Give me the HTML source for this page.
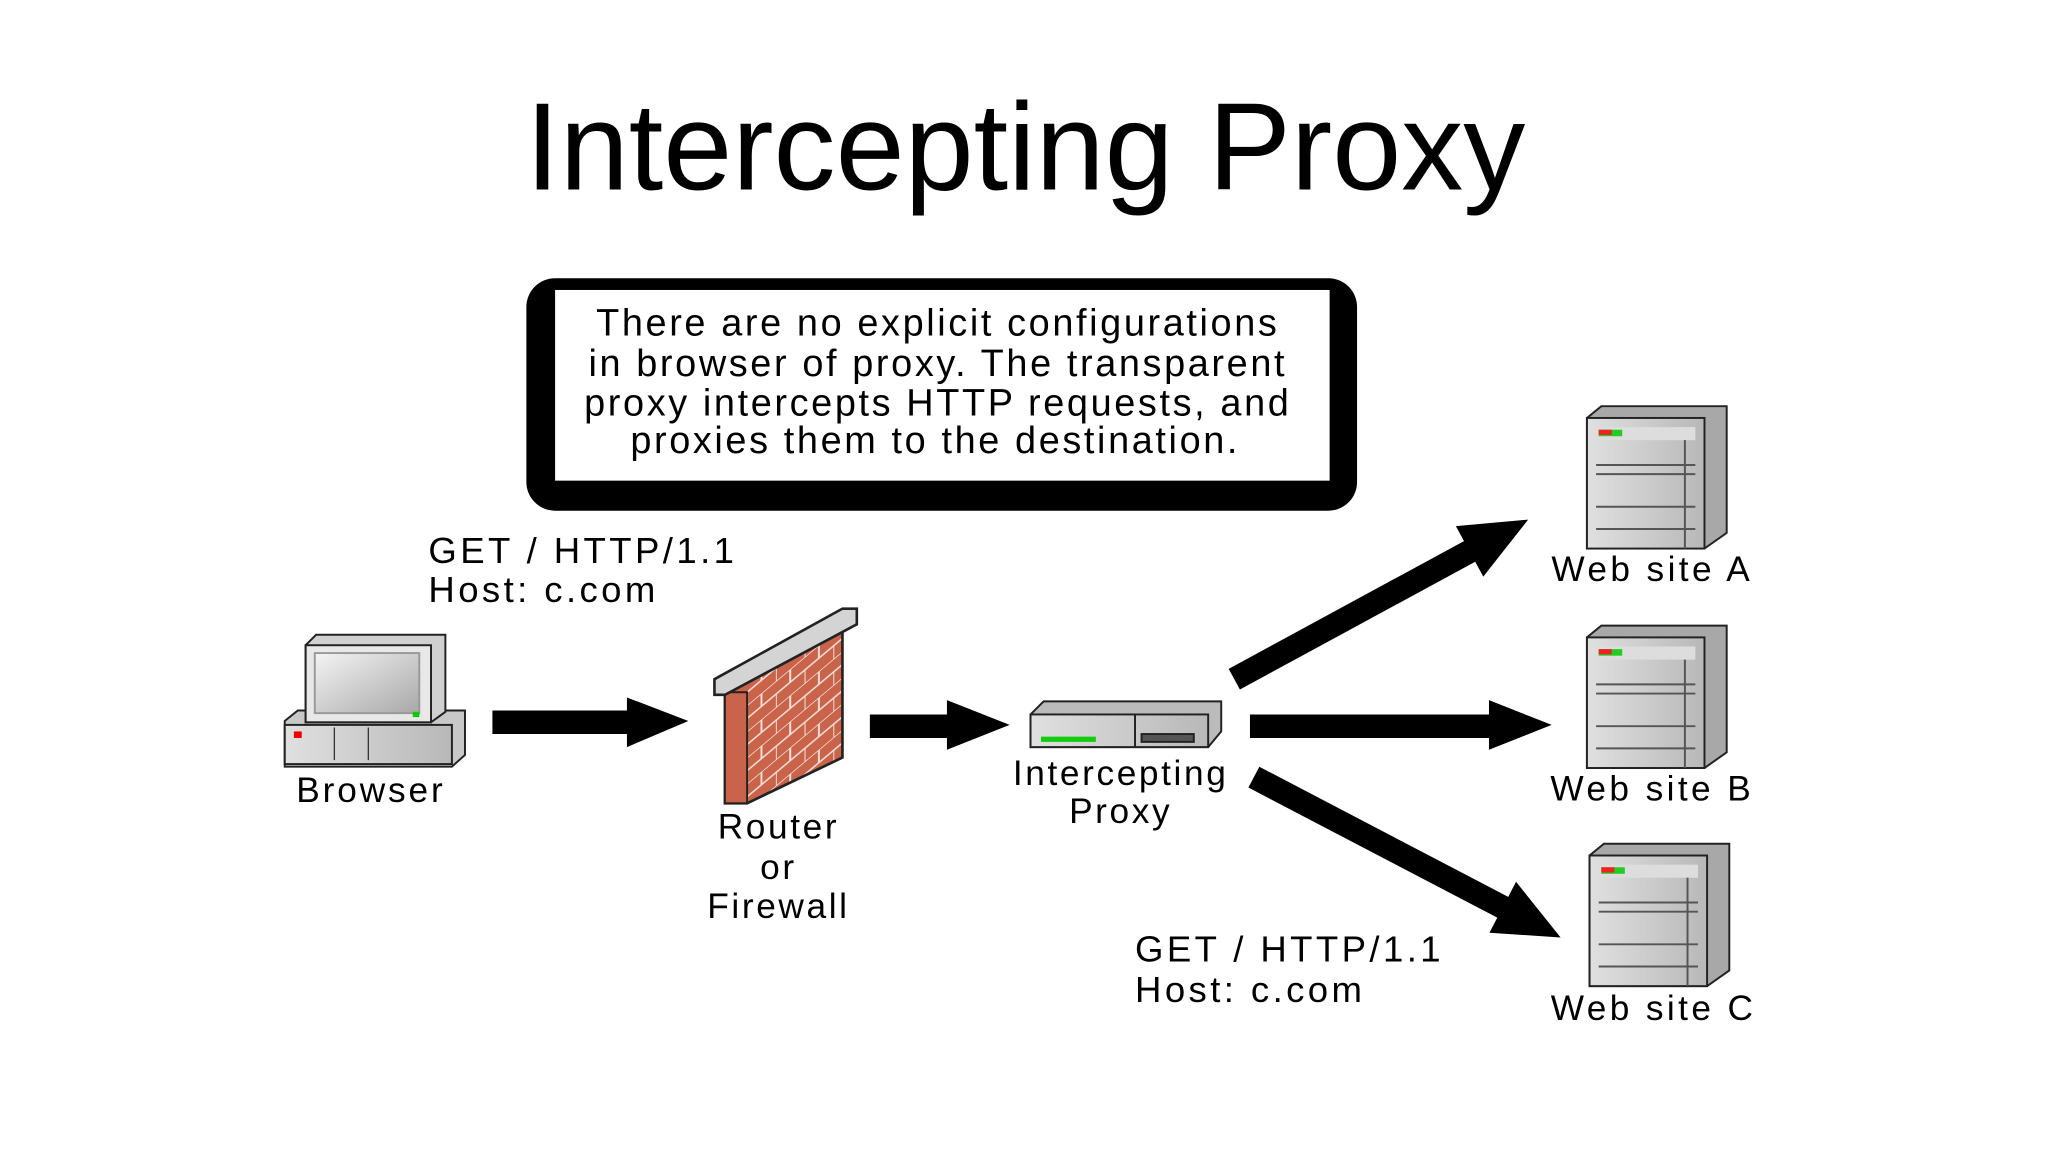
<!DOCTYPE html>
<html><head><meta charset="utf-8"><style>
html,body{margin:0;padding:0;background:#fff;}
svg{display:block;}
text{font-family:"Liberation Sans",Arial,sans-serif;fill:#000;}
</style></head><body>
<svg width="2048" height="1152" viewBox="0 0 1568 882" xmlns="http://www.w3.org/2000/svg">
<defs>
<linearGradient id="g1" x1="0" y1="0" x2="1" y2="1"><stop offset="0" stop-color="#f4f4f4"/><stop offset="1" stop-color="#a8a8a8"/></linearGradient>
<linearGradient id="g2" x1="0" y1="0" x2="1" y2="0"><stop offset="0" stop-color="#e0e0e0"/><stop offset="1" stop-color="#b8b8b8"/></linearGradient>
<pattern id="brick" width="22" height="20" patternUnits="userSpaceOnUse" patternTransform="skewY(-40)">
<rect width="22" height="20" fill="#c9634a"/>
<path d="M0 0H22M0 10H22M11 0V10M0 10V20" stroke="#f1e0d8" stroke-width="1.5"/>
</pattern>
</defs>
<text x="785" y="145" font-size="95" text-anchor="middle">Intercepting Proxy</text>

<rect x="403" y="213" width="636" height="178" rx="22" fill="#000"/>
<rect x="425" y="222" width="593" height="146" fill="#fff"/>
<g font-size="29" text-anchor="middle" letter-spacing="2">
<text x="718" y="257">There are no explicit configurations</text>
<text x="718" y="288">in browser of proxy. The transparent</text>
<text x="718" y="318">proxy intercepts HTTP requests, and</text>
<text x="716" y="347">proxies them to the destination.</text>
</g>

<g font-size="28" letter-spacing="2.6">
<text x="328" y="431">GET / HTTP/1.1</text>
<text x="328" y="461">Host: c.com</text>
<text x="869" y="736">GET / HTTP/1.1</text>
<text x="869" y="767">Host: c.com</text>
</g>

<g stroke="#222" stroke-width="1.5">
<polygon points="218,552 228,544 356,544 356,578 346,587 218,587" fill="#c8c8c8"/>
<rect x="218" y="555" width="128" height="30" fill="url(#g2)"/>
<polygon points="234,494 242,486 341,486 341,545 330,553 234,553" fill="#d0d0d0"/>
<rect x="234" y="494" width="96" height="59" fill="#e8e8e8"/>
<rect x="241" y="500" width="80" height="46" fill="url(#g1)" stroke="#999"/>
</g>
<rect x="225" y="560" width="6" height="5" fill="#e00"/>
<rect x="316" y="545" width="5" height="4" fill="#0c0"/>
<line x1="256" y1="557" x2="256" y2="582" stroke="#333"/><line x1="282" y1="557" x2="282" y2="582" stroke="#333"/>
<text x="284" y="614" font-size="27" text-anchor="middle" letter-spacing="2.2">Browser</text>

<polygon points="555,530 645,470 645,580 572,615 555,615" fill="url(#brick)" stroke="#222" stroke-width="2"/>
<rect x="555" y="530" width="17" height="85" fill="#c9634a" stroke="#222" stroke-width="1.5"/>
<polygon points="547,520 645,466 656,466 656,478 555,532 547,532" fill="#d4d4d4" stroke="#222" stroke-width="2"/>
<g font-size="27" text-anchor="middle" letter-spacing="2">
<text x="596" y="642">Router</text><text x="596" y="673">or</text><text x="596" y="703">Firewall</text>
</g>

<g stroke="#222" stroke-width="1.5">
<polygon points="789,547 799,537 935,537 935,560 925,572 789,572" fill="#bbb"/>
<rect x="789" y="547" width="136" height="25" fill="url(#g2)"/>
<line x1="869" y1="547" x2="869" y2="572"/>
<rect x="874" y="562" width="40" height="6" fill="#555"/>
</g>
<rect x="797" y="564" width="42" height="4" fill="#1c1"/>
<g font-size="27" text-anchor="middle" letter-spacing="2">
<text x="858" y="601">Intercepting</text><text x="858" y="630">Proxy</text>
</g>

<g id="srv">
<polygon points="1215,320 1226,311 1322,311 1322,408 1305,420 1215,420" fill="#a8a8a8" stroke="#222" stroke-width="1.5"/>
<rect x="1215" y="320" width="90" height="100" fill="url(#g2)" stroke="#222" stroke-width="1.5"/>
<rect x="1222" y="327" width="76" height="10" fill="#ddd"/>
<rect x="1224" y="329" width="18" height="5" fill="#2c2"/><rect x="1224" y="329" width="10" height="4" fill="#e22"/>
<g stroke="#555" stroke-width="1.5"><line x1="1222" y1="356" x2="1298" y2="356"/><line x1="1222" y1="363" x2="1298" y2="363"/><line x1="1222" y1="388" x2="1298" y2="388"/><line x1="1222" y1="405" x2="1298" y2="405"/><line x1="1290" y1="337" x2="1290" y2="420"/></g>
</g>
<use href="#srv" transform="translate(0,168)"/>
<use href="#srv" transform="translate(2,335)"/>
<g font-size="27" text-anchor="middle" letter-spacing="2.6">
<text x="1265" y="445">Web site A</text><text x="1265" y="613">Web site B</text><text x="1266" y="781">Web site C</text>
</g>

<g fill="#000">
<polygon points="377,544 480,544 480,534 527,552 480,572 480,562 377,562"/>
<polygon points="666,547 725,547 725,536 773,555 725,574 725,565 666,565"/>
<polygon points="957,547 1140,547 1140,536 1188,555 1140,574 1140,565 957,565"/>
<g transform="translate(945,520) rotate(-28.5)"><polygon points="0,-9 205,-9 205,-22 256,0 205,22 205,9 0,9"/></g>
<g transform="translate(960,595) rotate(27.6)"><polygon points="0,-9 215,-9 215,-22 265,0 215,22 215,9 0,9"/></g>
</g>
</svg>
</body></html>
